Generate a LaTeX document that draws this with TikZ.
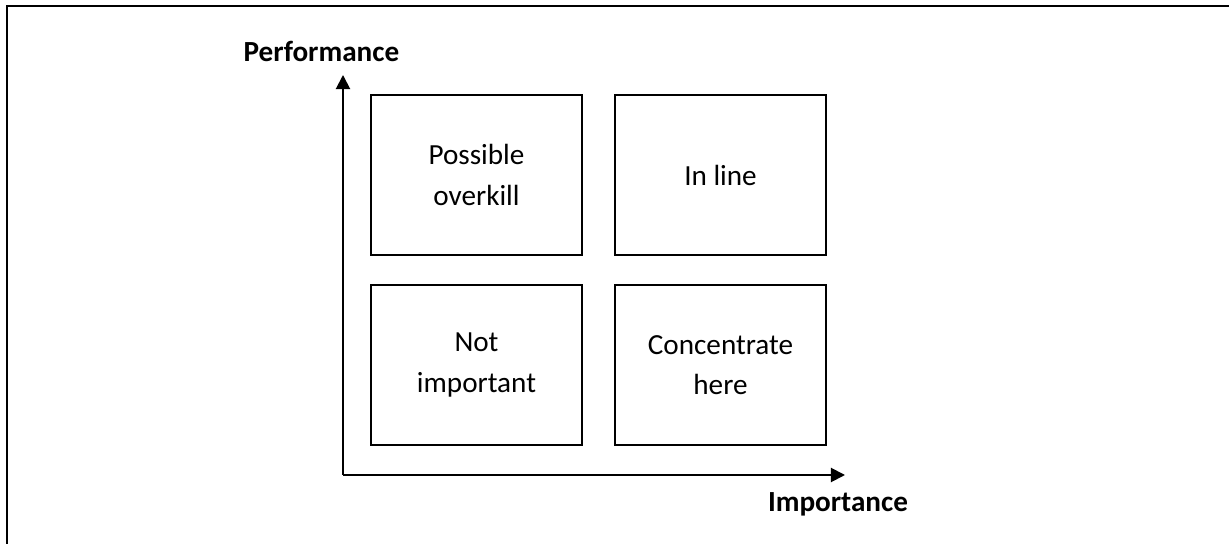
\documentclass[tikz,border=0pt]{standalone}
\usepackage{fontspec}
\setmainfont{Carlito}
\usepackage{tikz}
\usetikzlibrary{positioning,arrows.meta}

\tikzset{
    quadbox/.style={draw, line width=1.1pt, minimum width=4.22cm, minimum height=3.2cm, align=center, outer sep=0pt},
    axislabel/.style={font=\fontsize{16.6}{22.8}\selectfont\bfseries, anchor=base}
}

\begin{document}
\begin{tikzpicture}[font=\fontsize{16.6}{22.8}\selectfont]
    \useasboundingbox (0,0) rectangle (24.58,10.88);
    % Frame
    \draw [line width=1.5pt] (0.14,-0.5) -- (0.14,10.76) -- (25,10.76);
    % Quadrants
    \node [quadbox] (overkill) at (9.53,7.38) {Possible\\overkill};
    \node [quadbox, right=0.66cm of overkill] (inline) {In line};
    \node [quadbox, below=0.6cm of overkill] (notimp) {Not\\important};
    \node [quadbox, below=0.6cm of inline] (concentrate) {Concentrate\\here};
    % Axes
    \coordinate (origin) at (6.86,1.38);
    \coordinate (ytip) at (6.86,9.38);
    \coordinate (xtip) at (16.9,1.38);
    \draw [line width=1.1pt, -{Triangle[width=8pt,length=8pt]}] (origin) -- (ytip);
    \draw [line width=1.1pt, -{Triangle[width=8pt,length=8pt]}] (origin) -- (xtip);
    \node [axislabel] (perf) at (6.43,9.64) {Performance};
    \node [axislabel] (imp) at (16.76,0.64) {Importance};
\end{tikzpicture}
\end{document}
